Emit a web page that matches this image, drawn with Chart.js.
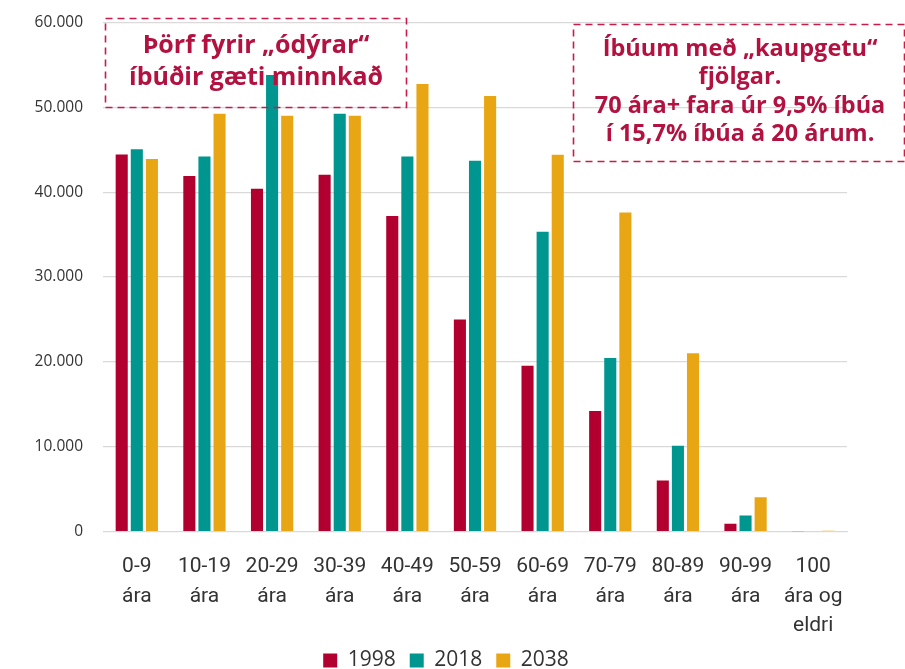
<!DOCTYPE html>
<html>
<head>
<meta charset="utf-8">
<script src="https://cdn.jsdelivr.net/npm/chart.js@4.4.1/dist/chart.umd.min.js"></script>
<style>
html,body{margin:0;padding:0;background:#fff;}
#wrap{position:relative;width:905px;height:669px;}
</style>
</head>
<body>
<div id="wrap"><canvas id="c" width="905" height="669"></canvas></div>
<script>
const categories = [["0-9","ára"],["10-19","ára"],["20-29","ára"],["30-39","ára"],["40-49","ára"],["50-59","ára"],["60-69","ára"],["70-79","ára"],["80-89","ára"],["90-99","ára"],["100","ára og","eldri"]];
const seriesNames = ["1998","2018","2038"];
const values1998 = [44450, 41900, 40400, 42050, 37200, 25000, 19550, 14200, 6000, 900, 20];
const values2018 = [45050, 44200, 53800, 49250, 44200, 43700, 35330, 20450, 10100, 1880, 50];
const values2038 = [43900, 49250, 49000, 49000, 52750, 51350, 44400, 37600, 21000, 4050, 80];
const yTicks = [0, 10000, 20000, 30000, 40000, 50000, 60000];
const note1 = ["Þörf fyrir „ódýrar“", "íbúðir gæti minnkað"];
const note2 = ["Íbúum með „kaupgetu“", "fjölgar.", "70 ára+ fara úr 9,5% íbúa", "í 15,7% íbúa á 20 árum."];

const colors = ["#B1002F", "#009690", "#E8A614"];

function fmt(v){ return String(v).replace(/\B(?=(\d{3})+(?!\d))/g, "."); }

const notesPlugin = {
  id: 'notes',
  afterLayout(chart){
    if (chart.legend) { chart.legend.left += 45; }
  },
  afterDraw(chart){
    const ctx = chart.ctx;
    ctx.save();
    ctx.strokeStyle = "#C81A4B";
    ctx.lineWidth = 1.6;
    ctx.setLineDash([7,5]);
    ctx.strokeRect(105.5, 18.5, 301, 89);
    ctx.strokeRect(573.5, 24.5, 331, 137);
    ctx.setLineDash([]);
    ctx.fillStyle = "#B3113F";
    ctx.textAlign = "center";
    ctx.textBaseline = "middle";
    ctx.font = "bold 25px 'Open Sans', 'Noto Sans', sans-serif";
    ctx.fillText(note1[0], 256, 46);
    ctx.fillText(note1[1], 256, 78);
    ctx.font = "bold 23.5px 'Open Sans', 'Noto Sans', sans-serif";
    const ys = [49, 77, 106, 134];
    note2.forEach((t,i)=>ctx.fillText(t, 740, ys[i]));
    ctx.restore();
  }
};

const datasets = [values1998, values2018, values2038].map((d,i)=>({
  label: seriesNames[i],
  data: d,
  backgroundColor: colors[i],
  borderWidth: 0,
  barPercentage: 0.8,
  categoryPercentage: 0.67
}));

new Chart(document.getElementById('c'), {
  type: 'bar',
  data: { labels: categories, datasets },
  options: {
    responsive: false,
    animation: false,
    layout: { padding: { top: 22.5, right: 58, left: 0, bottom: -12 } },
    plugins: {
      legend: {
        position: 'bottom',
        labels: {
          boxWidth: 14, boxHeight: 14, padding: 14,
          color: "#333",
          font: { family: "'Open Sans', 'Noto Sans', sans-serif", size: 21 }
        }
      },
      tooltip: { enabled: false }
    },
    scales: {
      x: {
        afterFit(s){ s.height = 104.5; },
        grid: { display: false, drawTicks: false },
        border: { color: "#D9D9D9", width: 1 },
        ticks: {
          color: "#333", padding: 21, maxRotation: 0, autoSkip: false,
          font: { family: "Roboto, 'Liberation Sans', sans-serif", size: 21, lineHeight: 1.4 }
        }
      },
      y: {
        min: 0, max: 60000,
        afterFit(s){ s.width = 103; s.paddingTop = 0; s.paddingBottom = 0; },
        afterBuildTicks(s){ s.ticks = yTicks.map(v=>({value:v})); },
        grid: { color: "#D9D9D9", lineWidth: 1.2, drawTicks: false },
        border: { display: false },
        ticks: {
          color: "#333", padding: 20,
          font: { family: "'Open Sans', 'Noto Sans', sans-serif", size: 15.5 },
          callback: v => fmt(v)
        }
      }
    }
  },
  plugins: [notesPlugin]
});
</script>
</body>
</html>
